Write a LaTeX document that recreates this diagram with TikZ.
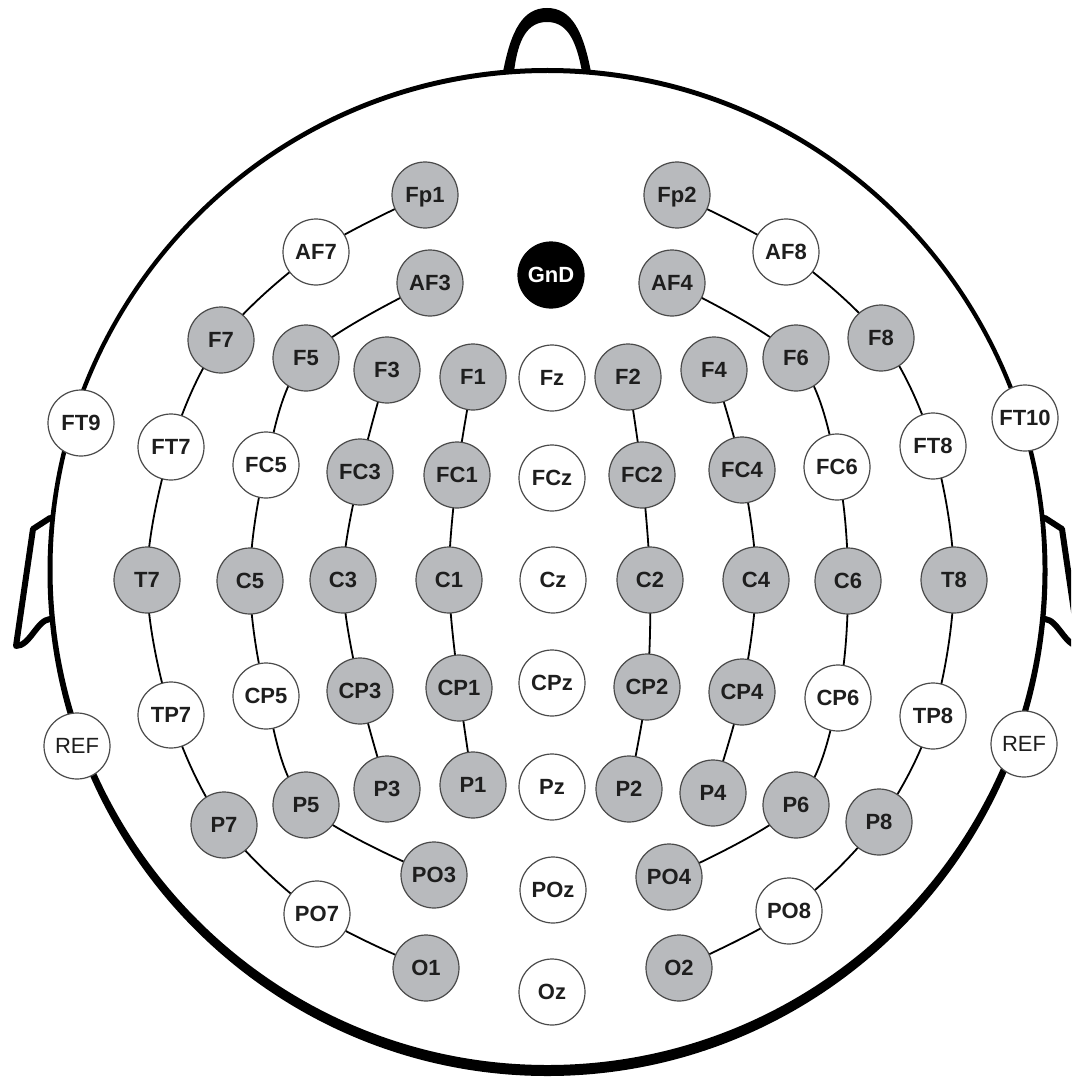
\documentclass[tikz,border=0pt]{standalone}
\usepackage{fontspec}
\setmainfont{Liberation Sans}
\usetikzlibrary{backgrounds}
\definecolor{elgray}{HTML}{B8BABD}
\definecolor{elborder}{HTML}{4A4A4A}
\definecolor{eltext}{HTML}{1E1E1E}
\tikzset{
  elec/.style={circle, draw=elborder, line width=1.2pt, minimum size=66pt, inner sep=0pt,
    text=eltext, text height=15.8pt, text depth=0pt,
    font=\fontsize{22}{22}\selectfont\bfseries},
  gel/.style={elec, fill=elgray},
  wel/.style={elec, fill=white},
  rel/.style={elec, fill=white, font=\fontsize{22}{22}\selectfont},
  gnd/.style={elec, fill=black, draw=black, text=white},
  wire/.style={line width=1.8pt, draw=black},
  earline/.style={line width=6pt, draw=black, line join=round, line cap=round},
}
\begin{document}
\begin{tikzpicture}[x=1pt,y=-1pt]
\useasboundingbox (0,0) rectangle (1071,1078);
\foreach \n/\t/\x/\y/\s in {
  Fp1/Fp1/425/195/gel, Fp2/Fp2/677/195/gel,
  AF7/AF7/316/252/wel, AF8/AF8/786/252/wel,
  AF3/AF3/430/283/gel, GnD/GnD/551/275/gnd, AF4/AF4/672/283/gel,
  F7/F7/221/340/gel, F8/F8/881/338/gel,
  F5/F5/306/358/gel, F6/F6/796/358/gel,
  F3/F3/387/370/gel, F4/F4/714/370/gel,
  F1/F1/473/377/gel, Fz/Fz/552/378/wel, F2/F2/628/377/gel,
  FT9/FT9/81/423/wel, FT10/FT10/1025/418/wel,
  FT7/FT7/171/447/wel, FT8/FT8/933/446/wel,
  FC5/FC5/266/465/wel, FC6/FC6/837/467/wel,
  FC3/FC3/360/472/gel, FC4/FC4/742/470/gel,
  FC1/FC1/457/475/gel, FCz/FCz/552/478/wel, FC2/FC2/642/475/gel,
  T7/T7/147/580/gel, C5/C5/250/581/gel, C3/C3/343/580/gel, C1/C1/449/580/gel,
  Cz/Cz/553/580/wel, C2/C2/650/580/gel, C4/C4/756/580/gel, C6/C6/848/581/gel, T8/T8/954/580/gel,
  CP5/CP5/266/696/wel, CP3/CP3/360/691/gel, CP1/CP1/459/688/gel, CPz/CPz/552/683/wel,
  CP2/CP2/647/687/gel, CP4/CP4/742/692/gel, CP6/CP6/838/698/wel,
  TP7/TP7/171/715/wel, TP8/TP8/933/716/wel,
  REFL/REF/77/746/rel, REFR/REF/1024/744/rel,
  P7/P7/224/825/gel, P5/P5/306/805/gel, P3/P3/387/789/gel, P1/P1/473/785/gel,
  Pz/Pz/552/787/wel, P2/P2/629/789/gel, P4/P4/713/793/gel, P6/P6/796/805/gel, P8/P8/879/822/gel,
  PO3/PO3/434/875/gel, POz/POz/553/890/wel, PO4/PO4/669/877/gel,
  PO7/PO7/317/914/wel, PO8/PO8/789/911/wel,
  O1/O1/426/968/gel, Oz/Oz/552/992/wel, O2/O2/679/968/gel}
  {\node[style=\s] (\n) at (\x,\y) {\t};}
\begin{scope}[on background layer]
  \clip (0,0) rectangle (1071,1078);
  % head
  \fill[black, even odd rule] (547.5,572) ellipse [x radius=500, y radius=504]
        (547.5,569) ellipse [x radius=495, y radius=496];
  % nose
  \fill[black] (503,72) .. controls (511,30) and (523,8) .. (547,8)
        .. controls (571,8) and (583,30) .. (591,72) -- (582,72)
        .. controls (576,38) and (566,22) .. (547,22)
        .. controls (528,22) and (518,38) .. (514,72) -- cycle;
  % ears
  \draw[earline] (50,518) -- (33,529) -- (16,646) .. controls (30,646) and (37,620) .. (50,619);
  \draw[earline] (1045,518) -- (1062,529) -- (1079,646) .. controls (1065,646) and (1058,620) .. (1045,619);
  % electrode chains
  \draw[wire] plot[smooth, tension=0.55] coordinates {(Fp1) (AF7) (F7) (FT7) (T7) (TP7) (P7) (PO7) (O1)};
  \draw[wire] plot[smooth, tension=0.55] coordinates {(AF3) (F5) (FC5) (C5) (CP5) (P5) (PO3)};
  \draw[wire] plot[smooth, tension=0.55] coordinates {(F3) (FC3) (C3) (CP3) (P3)};
  \draw[wire] plot[smooth, tension=0.55] coordinates {(F1) (FC1) (C1) (CP1) (P1)};
  \draw[wire] plot[smooth, tension=0.55] coordinates {(Fp2) (AF8) (F8) (FT8) (T8) (TP8) (P8) (PO8) (O2)};
  \draw[wire] plot[smooth, tension=0.55] coordinates {(AF4) (F6) (FC6) (C6) (CP6) (P6) (PO4)};
  \draw[wire] plot[smooth, tension=0.55] coordinates {(F4) (FC4) (C4) (CP4) (P4)};
  \draw[wire] plot[smooth, tension=0.55] coordinates {(F2) (FC2) (C2) (CP2) (P2)};
\end{scope}
\end{tikzpicture}
\end{document}
